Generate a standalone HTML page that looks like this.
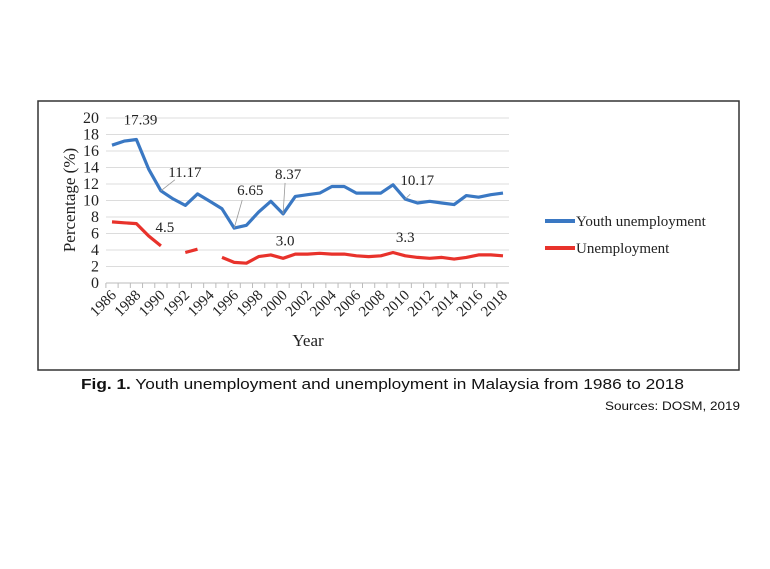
<!DOCTYPE html>
<html><head><meta charset="utf-8"><style>
body{margin:0;background:#fff;width:770px;height:564px;overflow:hidden}
</style></head><body>
<svg width="770" height="564" viewBox="0 0 770 564" xmlns="http://www.w3.org/2000/svg">
<rect x="38" y="101" width="701" height="269" fill="none" stroke="#333" stroke-width="1.5"/>
<g id="grid"></g>
<g id="yticks" font-family="Liberation Serif, serif" font-size="16" fill="#222" text-anchor="end"></g>
<g id="xticks" font-family="Liberation Serif, serif" font-size="15" fill="#222"></g>
<text x="75" y="200" transform="rotate(-90 75 200)" text-anchor="middle" font-family="Liberation Serif, serif" font-size="17" fill="#222">Percentage (%)</text>
<text x="308" y="346" text-anchor="middle" font-family="Liberation Serif, serif" font-size="17" fill="#222">Year</text>
<g id="series"></g>
<g id="labels" font-family="Liberation Serif, serif" font-size="15" fill="#222"></g>
<g>
<line x1="545" y1="221" x2="575" y2="221" stroke="#3a78c3" stroke-width="4"/>
<text x="576" y="226" font-family="Liberation Serif, serif" font-size="15" fill="#222">Youth unemployment</text>
<line x1="545" y1="248" x2="575" y2="248" stroke="#e8322b" stroke-width="4"/>
<text x="576" y="253" font-family="Liberation Serif, serif" font-size="15" fill="#222">Unemployment</text>
</g>
<text x="81" y="389" font-family="Liberation Sans, sans-serif" font-size="15" fill="#111" textLength="603" lengthAdjust="spacingAndGlyphs"><tspan font-weight="bold">Fig. 1.</tspan> Youth unemployment and unemployment in Malaysia from 1986 to 2018</text>
<text x="740" y="410" text-anchor="end" font-family="Liberation Sans, sans-serif" font-size="12" fill="#111" textLength="135" lengthAdjust="spacingAndGlyphs">Sources: DOSM, 2019</text>
</svg>
<script>
const years=[];for(let y=1986;y<=2018;y++)years.push(y);
const youth=[16.7,17.2,17.39,13.8,11.17,10.2,9.4,10.8,9.9,9.0,6.65,7.0,8.6,9.9,8.37,10.5,10.7,10.9,11.7,11.7,10.9,10.9,10.9,11.9,10.17,9.7,9.9,9.7,9.5,10.6,10.4,10.7,10.9];
const unemp=[7.4,7.3,7.2,5.7,4.5,null,3.7,4.1,null,3.1,2.5,2.4,3.2,3.4,3.0,3.5,3.5,3.6,3.5,3.5,3.3,3.2,3.3,3.7,3.3,3.1,3.0,3.1,2.9,3.1,3.4,3.4,3.3];
const yTicks=[0,2,4,6,8,10,12,14,16,18,20];
const ns="http://www.w3.org/2000/svg";
const X0=112,X1=503,Y0=283,Y1=118;
const xs=i=>X0+(X1-X0)*i/(years.length-1);
const ys=v=>Y0-(Y0-Y1)*v/20;
const grid=document.getElementById('grid'),yt=document.getElementById('yticks'),xt=document.getElementById('xticks');
yTicks.forEach(t=>{
 const l=document.createElementNS(ns,'line');
 
 
 l.setAttribute('x1',X0-6);l.setAttribute('x2',X1+6);l.setAttribute('y1',ys(t));l.setAttribute('y2',ys(t));
 l.setAttribute('stroke',t===0?'#bbb':'#dcdcdc');l.setAttribute('stroke-width','1');grid.appendChild(l);
 const tx=document.createElementNS(ns,'text');
 
 
 tx.setAttribute('x',99);tx.setAttribute('y',ys(t)+5);tx.textContent=t;yt.appendChild(tx);
});
years.forEach((y,i)=>{
 const l=document.createElementNS(ns,'line');
 
 
 const xx=xs(i)-6.1;l.setAttribute('x1',xx);l.setAttribute('x2',xx);l.setAttribute('y1',Y0);l.setAttribute('y2',Y0+5);
 l.setAttribute('stroke','#bbb');grid.appendChild(l);
 if(i%2===0){
  const tx=document.createElementNS(ns,'text');
  
  
  const px=xs(i)+5,py=Y0+13;
  tx.setAttribute('x',px);tx.setAttribute('y',py);tx.setAttribute('text-anchor','end');
  tx.setAttribute('transform',`rotate(-45 ${px} ${py})`);tx.textContent=y;xt.appendChild(tx);
 }
});
const ser=document.getElementById('series');
function drawLine(vals,color,name){
 let d='',pen=false;
 vals.forEach((v,i)=>{if(v===null){pen=false;return;}d+=(pen?'L':'M')+xs(i).toFixed(1)+' '+ys(v).toFixed(1)+' ';pen=true;});
 const p=document.createElementNS(ns,'path');
 
 
 p.setAttribute('d',d);p.setAttribute('fill','none');p.setAttribute('stroke',color);p.setAttribute('stroke-width','3.2');p.setAttribute('stroke-linejoin','round');
 ser.appendChild(p);
}
drawLine(youth,'#3a78c3','youth-unemployment-line');
drawLine(unemp,'#e8322b','unemployment-line');
const lab=document.getElementById('labels');
// [index, label dx, label baseline dy, leader end dx, leader end dy]
const youthLabels=[[2,4,-15,null,null],[4,24,-14,14,-11],[10,16,-33,8,-28],[14,5,-35,2,-31],[24,12,-14,5,-5]];
youthLabels.forEach(([i,dx,dy,lx,ly])=>{
 const tx=document.createElementNS(ns,'text');
 
 
 const v=youth[i];tx.setAttribute('x',xs(i)+dx);tx.setAttribute('y',ys(v)+dy);tx.setAttribute('text-anchor','middle');
 tx.textContent=v.toFixed(2);lab.appendChild(tx);
 if(lx!==null){
  const l=document.createElementNS(ns,'line');
  
  
  l.setAttribute('x1',xs(i));l.setAttribute('y1',ys(v));l.setAttribute('x2',xs(i)+lx);l.setAttribute('y2',ys(v)+ly);
  l.setAttribute('stroke','#999');l.setAttribute('stroke-width','0.8');lab.appendChild(l);
 }
});
const unLabels=[[4,4,-14],[14,2,-13],[24,0,-14]];
unLabels.forEach(([i,dx,dy])=>{
 const tx=document.createElementNS(ns,'text');
 
 
 const v=unemp[i];tx.setAttribute('x',xs(i)+dx);tx.setAttribute('y',ys(v)+dy);tx.setAttribute('text-anchor','middle');
 tx.textContent=v.toFixed(1);lab.appendChild(tx);
});
</script>
</body></html>
